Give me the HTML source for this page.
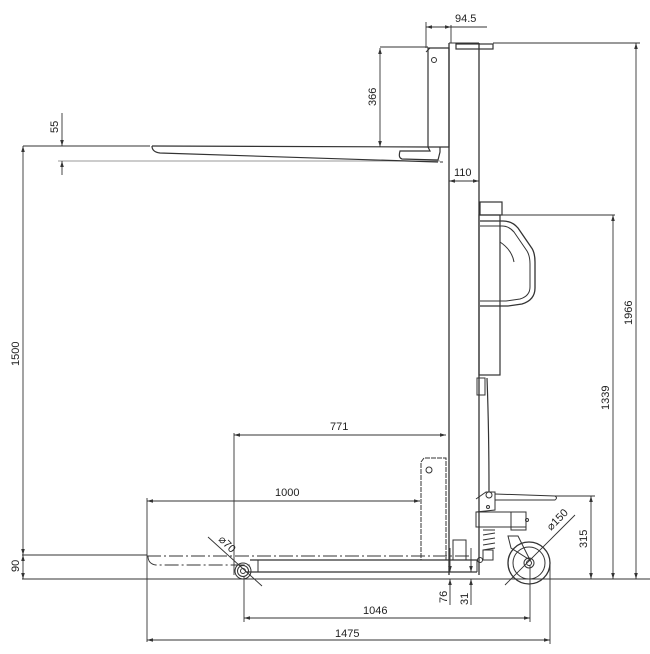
<!DOCTYPE html>
<html><head><meta charset="utf-8"><style>
html,body{margin:0;padding:0;background:#fff;}
svg{display:block;}
text{font-family:"Liberation Sans",sans-serif;font-size:11px;fill:#222;}
</style></head><body>
<svg width="650" height="654" viewBox="0 0 650 654" xmlns="http://www.w3.org/2000/svg">
<defs>
<marker id="a" viewBox="0 0 10 6" refX="10" refY="3" markerWidth="7" markerHeight="4" orient="auto-start-reverse"><path d="M0,0 L10,3 L0,6 z" fill="#333"/></marker>
</defs>
<g stroke="#333" stroke-width="1" fill="none">
<!-- mast -->
<line x1="449" y1="43" x2="449" y2="575" stroke-width="1.3"/>
<line x1="479" y1="43" x2="479" y2="575" stroke-width="1.3"/>
<line x1="449" y1="43" x2="479" y2="43"/>
<rect x="456" y="44" width="37" height="5" stroke-width="1.2"/>
<!-- carriage -->
<path d="M428,48 L449,48 L449,147 L428,147 Z" stroke-width="1.2"/>
<line x1="426" y1="52" x2="430" y2="48"/>
<circle cx="434" cy="60" r="2.5"/>
<!-- fork -->
<path d="M152,146 L428,147 L430,151 L400,151 Q398,158 402,159 L438,160 L440,152 L440,147" stroke-width="1.2"/>
<path d="M152,146 Q152,152 160,153 L438,162" stroke-width="1.2"/>
<line x1="440" y1="162" x2="443" y2="162"/>
<!-- handle block -->
<rect x="480" y="202" width="22" height="13" stroke-width="1.2"/>
<rect x="479" y="215" width="21" height="160" stroke-width="1.2"/>
<path d="M480,221 L503,221 Q512,221 518,228 L531,247 Q535,252 535,262 L535,288 Q535,300 522,304 L508,306 L480,306" stroke-width="1.3"/>
<path d="M480,226 L502,226 Q509,226 514,232 L527,251 Q530,256 530,264 L530,287 Q530,296 520,299 L506,301 L480,301"/>
<path d="M500,242 Q512,250 514,262"/>
<rect x="477" y="378" width="8" height="17"/>
<path d="M487,378 Q489,430 489,492" stroke-width="1.2"/>
<!-- rear upright -->
<path d="M421,462 L424,458 L446,458 L446,560 L421,560 Z" stroke-dasharray="5,1"/>
<circle cx="429" cy="470" r="3"/>
<!-- base frame -->
<line x1="250" y1="560" x2="477" y2="560" stroke-width="1.2"/>
<line x1="246" y1="572" x2="477" y2="572" stroke-width="1.2"/>
<line x1="477" y1="560" x2="477" y2="572"/>
<line x1="258" y1="560" x2="258" y2="572"/>
<circle cx="243" cy="571" r="8"/>
<circle cx="243" cy="571" r="5.5"/>
<circle cx="243" cy="571" r="2.5"/>
<rect x="453" y="540" width="13" height="20"/>
<!-- dash-dot lowered fork -->
<path d="M147,556 L470,556" stroke-dasharray="14,3,2,3" stroke-width="0.9"/>
<path d="M148,556 Q148,564 156,565 L250,565" stroke-dasharray="14,3,2,3" stroke-width="0.9"/>
<!-- caster assembly -->
<path d="M476,499 L486,492 L495,492 L495,510 L476,512"/>
<circle cx="489" cy="495" r="3"/>
<circle cx="488" cy="507" r="1.5"/>
<path d="M495,494 L555,496 Q558,498 555,500 L495,500"/>
<rect x="476" y="512" width="50" height="15"/>
<rect x="511" y="512" width="15" height="18"/>
<circle cx="527" cy="520" r="1.5"/>
<path d="M483,530 L495,530 M483,535 L495,533 M483,540 L495,538 M483,545 L495,543 M483,550 L495,548"/>
<path d="M483,550 L493,550 L493,560 L483,560 Z"/>
<circle cx="480" cy="560" r="2.5"/>
<path d="M508,536 L518,536 L530,560 L511,548 Z"/>
<circle cx="529" cy="563" r="21" stroke-width="1.3"/>
<circle cx="529" cy="563" r="16"/>
<circle cx="529" cy="563" r="5"/>
<circle cx="529" cy="563" r="2.5"/>
<!-- ground -->
<line x1="22" y1="579" x2="650" y2="579"/>
</g>
<g stroke="#333" stroke-width="0.9" fill="none">
<!-- 94.5 -->
<line x1="426" y1="22" x2="426" y2="48"/><line x1="451" y1="25" x2="451" y2="43"/>
<line x1="426" y1="27" x2="451" y2="27" marker-start="url(#a)" marker-end="url(#a)"/>
<line x1="451" y1="27" x2="487" y2="27"/>
<!-- 366 -->
<line x1="380" y1="47" x2="428" y2="47"/>
<line x1="380" y1="48" x2="380" y2="147" marker-start="url(#a)" marker-end="url(#a)"/>
<!-- 55 -->
<line x1="23" y1="146" x2="150" y2="146"/>
<line x1="58" y1="161" x2="440" y2="161" stroke-width="0.6"/>
<line x1="62" y1="113" x2="62" y2="146" marker-end="url(#a)"/>
<line x1="62" y1="175" x2="62" y2="161" marker-end="url(#a)"/>
<!-- 110 -->
<line x1="449" y1="181" x2="479" y2="181" marker-start="url(#a)" marker-end="url(#a)"/>
<!-- 1500 / 90 -->
<line x1="23" y1="146" x2="23" y2="555" marker-start="url(#a)" marker-end="url(#a)"/>
<line x1="22" y1="555" x2="147" y2="555"/>
<line x1="23" y1="555" x2="23" y2="579" marker-start="url(#a)" marker-end="url(#a)"/>
<!-- 1966 -->
<line x1="493" y1="43" x2="640" y2="43"/>
<line x1="636" y1="43" x2="636" y2="579" marker-start="url(#a)" marker-end="url(#a)"/>
<!-- 1339 -->
<line x1="500" y1="215" x2="615" y2="215"/>
<line x1="613" y1="215" x2="613" y2="579" marker-start="url(#a)" marker-end="url(#a)"/>
<!-- 315 -->
<line x1="555" y1="496" x2="595" y2="496"/>
<line x1="591" y1="496" x2="591" y2="579" marker-start="url(#a)" marker-end="url(#a)"/>
<!-- 771 -->
<line x1="234" y1="433" x2="234" y2="575"/>
<line x1="234" y1="435" x2="446" y2="435" marker-start="url(#a)" marker-end="url(#a)"/>
<!-- 1000 -->
<line x1="147" y1="498" x2="147" y2="642"/>
<line x1="147" y1="501" x2="420" y2="501" marker-start="url(#a)" marker-end="url(#a)"/>
<!-- 1046 -->
<line x1="244" y1="576" x2="244" y2="622"/>
<line x1="530" y1="565" x2="530" y2="622"/>
<line x1="244" y1="618" x2="530" y2="618" marker-start="url(#a)" marker-end="url(#a)"/>
<!-- 1475 -->
<line x1="550" y1="563" x2="550" y2="644"/>
<line x1="147" y1="640" x2="550" y2="640" marker-start="url(#a)" marker-end="url(#a)"/>
<!-- 76 / 31 -->
<line x1="450" y1="548" x2="450" y2="572" marker-end="url(#a)"/>
<line x1="450" y1="605" x2="450" y2="579" marker-end="url(#a)"/>
<line x1="471" y1="548" x2="471" y2="572" marker-end="url(#a)"/>
<line x1="471" y1="605" x2="471" y2="579" marker-end="url(#a)"/>
<!-- diameters -->
<line x1="208" y1="537" x2="262" y2="586"/>
<line x1="505" y1="585" x2="575" y2="515"/>
</g>
<g>
<text x="455" y="22">94.5</text>
<text x="454" y="176">110</text>
<text x="330" y="430">771</text>
<text x="275" y="496">1000</text>
<text x="363" y="614">1046</text>
<text x="335" y="637">1475</text>
<text transform="translate(376,106) rotate(-90)">366</text>
<text transform="translate(58,133) rotate(-90)">55</text>
<text transform="translate(19,366) rotate(-90)">1500</text>
<text transform="translate(19,572) rotate(-90)">90</text>
<text transform="translate(632,325) rotate(-90)">1966</text>
<text transform="translate(609,410) rotate(-90)">1339</text>
<text transform="translate(587,548) rotate(-90)">315</text>
<text transform="translate(447,603) rotate(-90)">76</text>
<text transform="translate(468,605) rotate(-90)">31</text>
<text transform="translate(551,531) rotate(-45)">⌀150</text>
<text transform="translate(218,540) rotate(45)">⌀70</text>
</g>
</svg>
</body></html>
